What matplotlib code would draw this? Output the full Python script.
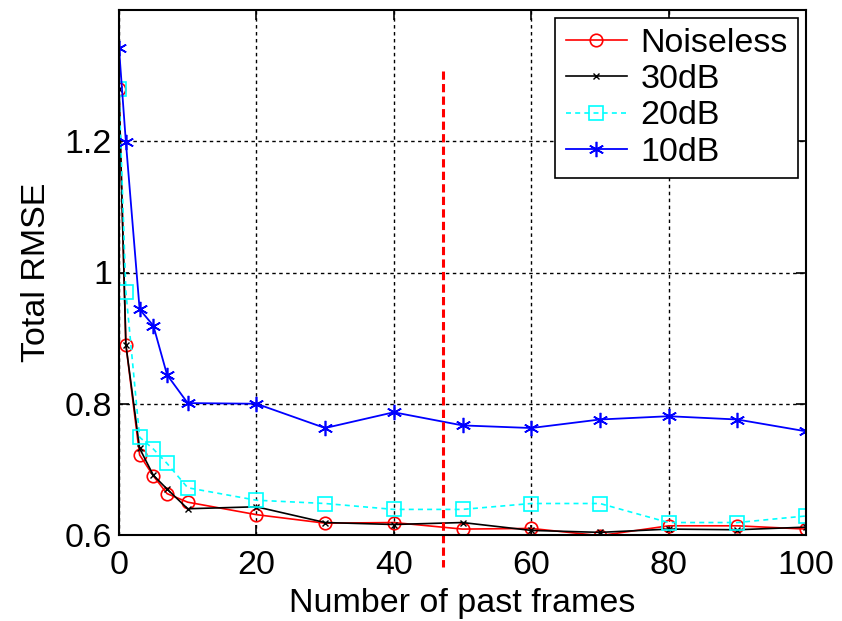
import matplotlib
matplotlib.use("Agg")
import matplotlib.pyplot as plt

frames = [0, 1, 3, 5, 7, 10, 20, 30, 40, 50, 60, 70, 80, 90, 100]
noiseless = [1.280, 0.890, 0.722, 0.690, 0.663, 0.650, 0.631, 0.618, 0.619, 0.609, 0.610, 0.599, 0.614, 0.614, 0.609]
db30 = [1.280, 0.890, 0.732, 0.691, 0.670, 0.640, 0.643, 0.619, 0.616, 0.619, 0.607, 0.604, 0.609, 0.608, 0.612]
db20 = [1.280, 0.971, 0.749, 0.731, 0.709, 0.672, 0.653, 0.648, 0.639, 0.639, 0.648, 0.648, 0.619, 0.619, 0.629]
db10 = [1.342, 1.199, 0.944, 0.919, 0.844, 0.801, 0.800, 0.763, 0.787, 0.767, 0.763, 0.776, 0.781, 0.776, 0.758]
labels = ["Noiseless", "30dB", "20dB", "10dB"]
vline_x = 47.2
vline_y = [1.307, 0.552]

plt.rcParams['font.family'] = ['Liberation Sans', 'DejaVu Sans']
FS = 24.5
fig = plt.figure(figsize=(8.42, 6.21), dpi=100)
ax = fig.add_axes([119 / 842, 1 - 535 / 621, 687 / 842, 525 / 621])

ax.plot(frames, noiseless, color='red', lw=1.2, marker='o', ms=9, mfc='none', mec='red', mew=1.2, label=labels[0])
ax.plot(frames, db30, color='black', lw=1.2, marker='x', ms=5, mec='black', mew=1.0, label=labels[1])
ax.plot(frames, db20, color='cyan', lw=1.2, ls=(0, (3, 2.5)), marker='s', ms=10, mfc='none', mec='cyan', mew=1.2, label=labels[2])
ax.plot(frames, db10, color='blue', lw=1.3, marker=(6, 2, 0), ms=11, mec='blue', mew=1.2, label=labels[3])

ax.plot([vline_x, vline_x], vline_y, color='red', lw=2.2, ls=(0, (2.7, 1.4)), clip_on=False)

ax.set_xlim(0, 100)
ax.set_ylim(0.6, 1.4)
ax.set_xticks([0, 20, 40, 60, 80, 100])
ax.set_yticks([0.6, 0.8, 1.0, 1.2])
ax.set_yticklabels(['0.6', '0.8', '1', '1.2'])
ax.grid(True, color='black', ls=(0, (2.5, 2.5)), lw=1.0)
ax.tick_params(direction='in', length=7, width=1.2, labelsize=FS, top=True, right=True)
ax.tick_params(axis='x', pad=11)
ax.tick_params(axis='y', pad=5)
for s in ax.spines.values():
    s.set_linewidth(1.5)
ax.set_xlabel('Number of past frames', fontsize=FS, labelpad=5)
ax.set_ylabel('Total RMSE', fontsize=FS, labelpad=9)

leg = ax.legend(loc='upper right', fontsize=FS, fancybox=False, edgecolor='black', framealpha=1,
                handlelength=1.8, borderpad=0.3, labelspacing=0.15, handletextpad=0.4,
                bbox_to_anchor=(798 / 842, 1 - 18 / 621), bbox_transform=fig.transFigure,
                borderaxespad=0)
leg.get_frame().set_linewidth(1.2)

fig.savefig('out.png', dpi=100)
